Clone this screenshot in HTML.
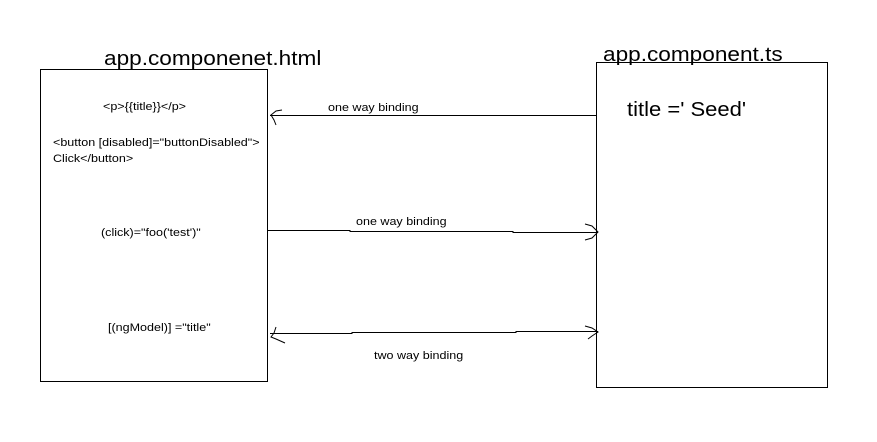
<!DOCTYPE html>
<html><head><style>
body{margin:0;background:#fff;width:877px;height:442px;overflow:hidden;position:relative;font-family:"Liberation Sans",sans-serif;color:#000}
.t{position:absolute;white-space:nowrap;font-size:11px;transform:scaleX(1.14);transform-origin:0 0}
.h{position:absolute;white-space:nowrap;font-size:20px;transform:scaleX(1.13);transform-origin:0 0}
</style></head><body>
<svg width="877" height="442" style="position:absolute;left:0;top:0" fill="none" stroke="#000" stroke-width="1">
<rect x="40.5" y="69.5" width="227" height="312"/>
<rect x="596.5" y="62.5" width="231" height="325"/>
<line x1="270" y1="115.5" x2="596" y2="115.5"/>
<polyline points="282,110 276,111 271,115 274,120 276,125"/>
<polyline points="267,230.5 350,230.5 350,231.5 513,231.5 513,232.5 598,232.5"/>
<polyline points="585,224 592,226 598,232 592,238 585,240"/>
<polyline points="270,333.5 352,333.5 352,332.5 516,332.5 516,331.5 598,331.5"/>
<polyline points="276,327 274,333 271,337 276,339 285,343"/>
<polyline points="585,326 592,328 598,332 592,336 588,339"/>
</svg>
<div class="h" style="left:104px;top:48px">app.componenet.html</div>
<div class="h" style="left:603px;top:44px">app.component.ts</div>
<div class="h" style="left:627px;top:99px;transform:scaleX(1.1)">title =' Seed'</div>
<div class="t" style="left:103px;top:101px">&lt;p&gt;{{title}}&lt;/p&gt;</div>
<div class="t" style="left:53px;top:137px">&lt;button [disabled]="buttonDisabled"&gt;</div>
<div class="t" style="left:53px;top:153px">Click&lt;/button&gt;</div>
<div class="t" style="left:101px;top:227px">(click)="foo('test')"</div>
<div class="t" style="left:108px;top:322px">[(ngModel)] ="title"</div>
<div class="t" style="left:328px;top:102px">one way binding</div>
<div class="t" style="left:356px;top:216px">one way binding</div>
<div class="t" style="left:374px;top:350px">two way binding</div>
</body></html>
